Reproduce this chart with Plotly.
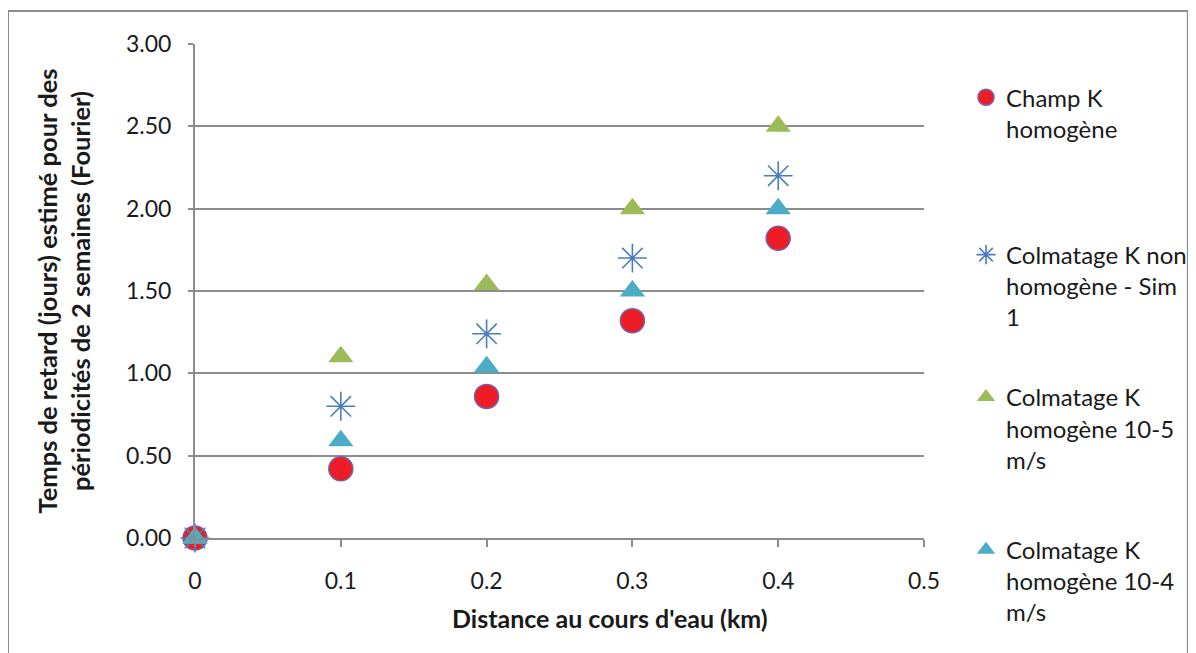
import plotly.graph_objects as go

x_vals = [0, 0.1, 0.2, 0.3, 0.4]
champ_k = [0.0, 0.42, 0.86, 1.32, 1.82]
colm_non_homog = [0.0, 0.80, 1.24, 1.70, 2.20]
colm_1e5 = [0.0, 1.10, 1.54, 2.00, 2.50]
colm_1e4 = [0.0, 0.59, 1.04, 1.50, 2.00]

names = [
    "Champ K<br>homogène",
    "Colmatage K non<br>homogène - Sim<br>1",
    "Colmatage K<br>homogène 10-5<br>m/s",
    "Colmatage K<br>homogène 10-4<br>m/s",
]
y_ticks = [0, 0.5, 1.0, 1.5, 2.0, 2.5, 3.0]
y_tick_text = ["0.00", "0.50", "1.00", "1.50", "2.00", "2.50", "3.00"]
x_ticks = [0, 0.1, 0.2, 0.3, 0.4, 0.5]
x_tick_text = ["0", "0.1", "0.2", "0.3", "0.4", "0.5"]

FONT = "Lato"
GRID = "#8c8c8c"
TXT = "#1a1a1a"
FS = 23
LFS = 24

fig = go.Figure()
fig.add_trace(go.Scatter(
    x=x_vals, y=champ_k, mode="markers", name=names[0], legendgroup="a",
    legend="legend", cliponaxis=False,
    marker=dict(symbol="circle", size=24, color="#ee1c24",
                line=dict(color="#7a5ca8", width=1.5))))
fig.add_trace(go.Scatter(
    x=x_vals, y=colm_non_homog, mode="markers", name=names[1], legendgroup="b",
    legend="legend", cliponaxis=False,
    marker=dict(symbol="asterisk-open", size=24, color="#4a7ebb",
                line=dict(color="#4a7ebb", width=1.6))))
fig.add_trace(go.Scatter(
    x=x_vals, y=colm_1e5, mode="markers", name=names[2], legendgroup="c",
    legend="legend2", cliponaxis=False,
    marker=dict(symbol="triangle-up", size=22, color="#9bbb59",
                line=dict(width=0))))
fig.add_trace(go.Scatter(
    x=x_vals, y=colm_1e4, mode="markers", name=names[3], legendgroup="d",
    legend="legend2", cliponaxis=False,
    marker=dict(symbol="triangle-up", size=22, color="#4bacc6",
                line=dict(width=0))))

legend_common = dict(xanchor="left", yanchor="top", valign="top", itemwidth=30,
                     font=dict(family=FONT, size=LFS, color=TXT),
                     bgcolor="rgba(0,0,0,0)")

fig.update_layout(
    width=1188, height=645,
    margin=dict(l=187, r=272, t=36, b=115, autoexpand=False),
    paper_bgcolor="white", plot_bgcolor="white",
    font=dict(family=FONT, size=FS, color=TXT),
    showlegend=True,
    legend=dict(x=1.0576, y=0.937, tracegroupgap=92, **legend_common),
    legend2=dict(x=1.0576, y=0.330, tracegroupgap=56, **legend_common),
    xaxis=dict(range=[0, 0.5], tickvals=x_ticks, ticktext=x_tick_text,
               showgrid=False, zeroline=False, showline=True,
               linecolor=GRID, linewidth=2, ticks="outside", ticklen=7,
               tickcolor=GRID, tickwidth=2, ticklabelstandoff=14,
               automargin=False,
               tickfont=dict(family=FONT, size=FS, color=TXT)),
    yaxis=dict(range=[0, 3], tickvals=y_ticks, ticktext=y_tick_text,
               showgrid=True, gridcolor=GRID, gridwidth=1.5,
               zeroline=False, showline=True, linecolor=GRID, linewidth=2,
               ticks="outside", ticklen=5, tickcolor=GRID, tickwidth=2,
               ticklabelstandoff=12, automargin=False,
               tickfont=dict(family=FONT, size=FS, color=TXT),
               title=dict(text="Temps de retard (jours) estimé pour des<br>périodicités de 2 semaines (Fourier)",
                          font=dict(family=FONT, size=25.5, color=TXT, weight="bold"),
                          standoff=28)),
    annotations=[dict(
        text="<b>Distance au cours d'eau (km)</b>", xref="paper", yref="paper",
        x=0.569, y=-0.162, xanchor="center", yanchor="middle", showarrow=False,
        font=dict(family=FONT, size=25, color=TXT))],
    shapes=[dict(type="rect", xref="paper", yref="paper",
                 x0=-0.2565, x1=1.362, y0=-0.26, y1=1.0668,
                 line=dict(color="#8c8c8c", width=2), fillcolor="rgba(0,0,0,0)",
                 layer="below")],
)

fig.write_html("out.html")
